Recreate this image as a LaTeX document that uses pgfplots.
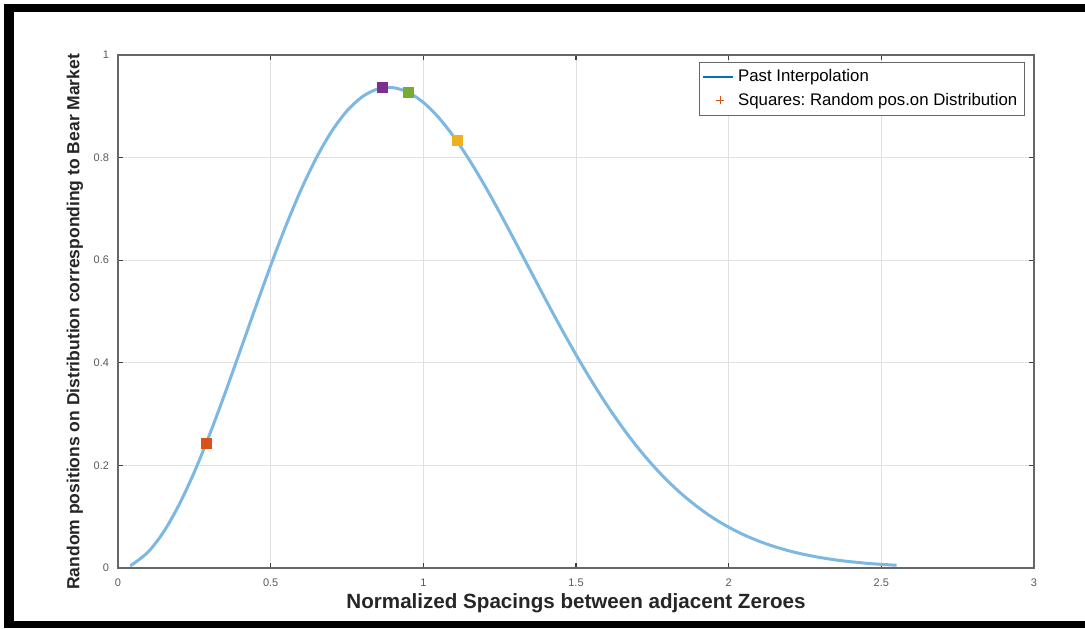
\documentclass[border=0pt]{standalone}
\usepackage{fontspec}
\setmainfont{Liberation Sans}
\usepackage{pgfplots}
\pgfplotsset{compat=1.18}
\frenchspacing

\definecolor{curveblue}{RGB}{125,184,226}
\definecolor{matblue}{RGB}{0,114,189}
\definecolor{matorange}{RGB}{217,83,25}
\definecolor{matpurple}{RGB}{126,47,142}
\definecolor{matgreen}{RGB}{119,172,48}
\definecolor{matyellow}{RGB}{237,177,32}

\begin{document}
\begin{tikzpicture}
\path[use as bounding box] (-59pt,-30pt) rectangle (483.5pt,284pt);
\begin{axis}[
  scale only axis,
  width=458pt, height=256.5pt,
  xmin=0, xmax=3, ymin=0, ymax=1,
  xtick={0,0.5,...,3}, ytick={0,0.2,...,1},
  grid=major,
  major grid style={color=black!12, line width=0.4pt},
  axis line style={color=black!60, line width=0.6pt},
  tick style={color=black!75, line width=0.6pt},
  tick align=inside,
  major tick length=2.5pt,
  tick label style={font=\fontsize{5.5}{6}\selectfont, color=black!65},
  /pgf/number format/assume math mode=true,
  xticklabel style={yshift=-2pt},
  yticklabel style={xshift=-1pt},
  xlabel={Normalized Spacings between adjacent Zeroes},
  ylabel={Random positions on Distribution corresponding to Bear Market},
  xlabel style={at={(axis description cs:0.5,-0.068)}, anchor=center,
    font=\fontsize{10.3}{11}\selectfont\bfseries, color=black!85},
  ylabel style={at={(axis description cs:-0.047,0.48)}, anchor=center,
    font=\fontsize{8.75}{10}\selectfont\bfseries, color=black!85},
  legend style={at={(axis description cs:0.99,0.986)}, anchor=north east,
    font=\fontsize{8.4}{9}\selectfont\frenchspacing, draw=black!60, line width=0.5pt,
    inner sep=1.5pt, row sep=0pt, cells={anchor=west}},
  legend cell align=left,
]
\addplot[color=curveblue, line width=1.5pt, smooth,
  legend image code/.code={\draw[line width=1pt, color=matblue] (0pt,0pt) -- (15pt,0pt);}]
coordinates {
 (0.04,0.0052) (0.05,0.0081) (0.10,0.0320) (0.15,0.0709) (0.20,0.1233)
 (0.25,0.1871) (0.30,0.2602) (0.35,0.3398) (0.40,0.4232) (0.45,0.5073)
 (0.50,0.5896) (0.55,0.6673) (0.60,0.7381) (0.65,0.7999) (0.70,0.8514)
 (0.75,0.8911) (0.80,0.9186) (0.85,0.9337) (0.90,0.9364) (0.95,0.9274)
 (1.00,0.9076) (1.05,0.8782) (1.10,0.8405) (1.15,0.7961) (1.20,0.7465)
 (1.25,0.6930) (1.30,0.6371) (1.35,0.5805) (1.40,0.5240) (1.45,0.4688)
 (1.50,0.4158) (1.55,0.3656) (1.60,0.3188) (1.65,0.2757) (1.70,0.2364)
 (1.75,0.2012) (1.80,0.1698) (1.85,0.1422) (1.90,0.1181) (1.95,0.0973)
 (2.00,0.0796) (2.05,0.0646) (2.10,0.0521) (2.15,0.0417) (2.20,0.0331)
 (2.25,0.0261) (2.30,0.0204) (2.35,0.0158) (2.40,0.0122) (2.45,0.0093)
 (2.50,0.0071) (2.55,0.0054)
};
\addlegendentry{Past Interpolation}
\addlegendimage{only marks, mark=+, mark size=2pt, color=matorange}
\addlegendentry{Squares: Random pos.on Distribution}
\addplot[forget plot, only marks, mark=square*, mark size=2.5pt, color=matorange] coordinates {(0.291,0.243)};
\addplot[forget plot, only marks, mark=square*, mark size=2.5pt, color=matpurple] coordinates {(0.866,0.936)};
\addplot[forget plot, only marks, mark=square*, mark size=2.5pt, color=matgreen] coordinates {(0.951,0.928)};
\addplot[forget plot, only marks, mark=square*, mark size=2.5pt, color=matyellow] coordinates {(1.111,0.834)};
\end{axis}
\fill[black] (-57pt,282pt) rectangle (483.5pt,278pt);
\fill[black] (-57pt,282pt) rectangle (-52pt,-30pt);
\fill[black] (-57pt,-26.5pt) rectangle (483.5pt,-30pt);
\end{tikzpicture}
\end{document}
